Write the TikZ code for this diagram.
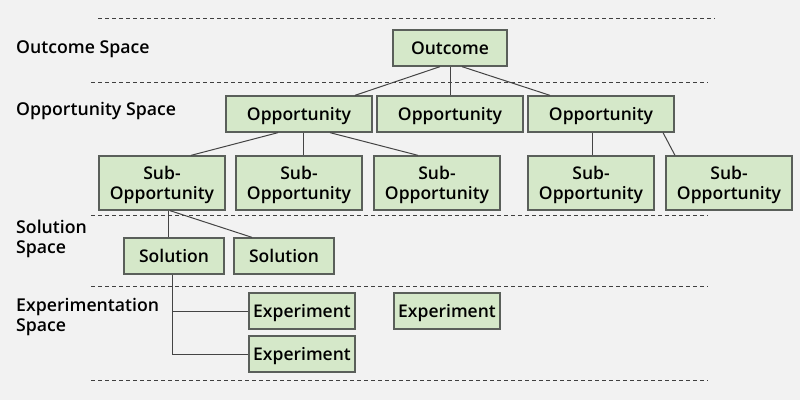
\documentclass[tikz,border=0pt]{standalone}
\usepackage{fontspec}
\setmainfont{Open Sans}[UprightFont={* Semibold}]
\definecolor{bgc}{HTML}{F2F2F2}
\definecolor{boxfill}{HTML}{D5E8C9}
\definecolor{boxdraw}{HTML}{5A5F5A}
\definecolor{linec}{HTML}{444444}
\begin{document}
\begin{tikzpicture}[x=1pt,y=-1pt,
  box/.style={draw=boxdraw,line width=1.3pt,fill=boxfill,inner sep=0pt,font=\fontsize{17.5}{20.5}\selectfont,align=center,text=black},
  b1/.style={box,minimum width=#1pt,minimum height=36pt,text height=12.5pt,text depth=0pt},
  b2/.style={box,minimum width=126pt,minimum height=54pt,text height=33pt,text depth=0pt},
  conn/.style={draw=linec,line width=1pt},
  sep/.style={draw=black!75,line width=0.9pt,dash pattern=on 4pt off 3pt},
  lab/.style={anchor=west,align=left,inner sep=0pt,font=\fontsize{17.7}{20}\selectfont,text=black}]
\useasboundingbox[fill=bgc] (0,0) rectangle (800,400);
% separators
\draw[sep] (98,18) -- (715,18);
\draw[sep] (91,82) -- (708,82);
\draw[sep] (91,215) -- (708,215);
\draw[sep] (91,286) -- (708,286);
\draw[sep] (91,380) -- (708,380);
% labels
\node[lab] (l1) at (16,49.5) {Outcome Space};
\node[lab] (l2) at (16,111.5) {Opportunity Space};
\node[lab] (l3) at (16,239) {Solution\\Space};
\node[lab] (l4) at (16,317) {Experimentation\\Space};
% nodes
\node[b1=114] (out) at (450,48) {Outcome};
\node[b1=146] (op1) at (299,114) {Opportunity};
\node[b1=146] (op2) at (450,114) {Opportunity};
\node[b1=146] (op3) at (601,114) {Opportunity};
\node[b2] (s1) at (162,183) {Sub-\\Opportunity};
\node[b2] (s2) at (299,183) {Sub-\\Opportunity};
\node[b2] (s3) at (437,183) {Sub-\\Opportunity};
\node[b2] (s4) at (591,183) {Sub-\\Opportunity};
\node[b2] (s5) at (729,183) {Sub-\\Opportunity};
\node[b1=100] (so1) at (174,256) {Solution};
\node[b1=100] (so2) at (284,256) {Solution};
\node[b1=106] (e1) at (302,311) {Experiment};
\node[b1=106] (e2) at (447,311) {Experiment};
\node[b1=106] (e3) at (302,354) {Experiment};
% connectors
\draw[conn] ([xshift=-10pt]out.south) -- ([xshift=56pt]op1.north);
\draw[conn] (out.south) -- (op2.north);
\draw[conn] ([xshift=12pt]out.south) -- ([xshift=-51pt]op3.north);
\draw[conn] ([xshift=-21pt]op1.south) -- ([xshift=29pt]s1.north);
\draw[conn] ([xshift=4pt]op1.south) -- ([xshift=4pt]s2.north);
\draw[conn] ([xshift=31pt]op1.south) -- ([xshift=-19pt]s3.north);
\draw[conn] ([xshift=-9pt]op3.south) -- ([xshift=1pt]s4.north);
\draw[conn] ([xshift=62pt]op3.south) -- ([xshift=-54pt]s5.north);
\draw[conn] ([xshift=6pt]s1.south) -- ([xshift=-6pt]so1.north);
\draw[conn] ([xshift=8pt]s1.south) -- ([xshift=-32pt]so2.north);
\draw[conn] ([xshift=-2pt]so1.south) |- (e1.west);
\draw[conn] ([xshift=-2pt]so1.south) |- (e3.west);
\end{tikzpicture}
\end{document}
